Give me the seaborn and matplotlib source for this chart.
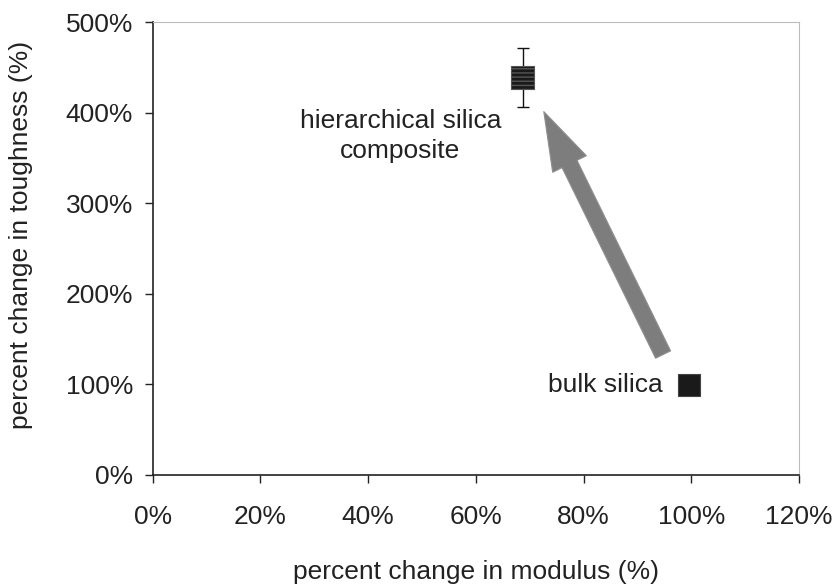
import matplotlib
matplotlib.use("Agg")
import matplotlib.pyplot as plt
import seaborn as sns
import pandas as pd

# data
materials = ["hierarchical silica composite", "bulk silica"]
modulus_change = [0.687, 0.995]
toughness_change = [4.39, 0.99]
toughness_err = [0.33, 0.0]

df = pd.DataFrame({"material": materials,
                   "modulus": modulus_change,
                   "toughness": toughness_change,
                   "err": toughness_err})

sns.set_style("white")
plt.rcParams["font.family"] = ["Liberation Sans", "DejaVu Sans"]
plt.rcParams["hatch.color"] = "#8a8a8a"
plt.rcParams["hatch.linewidth"] = 1.0

fig, ax = plt.subplots(figsize=(8.34, 5.86), dpi=100)
fig.subplots_adjust(left=0.183, right=0.958, top=0.962, bottom=0.19)

# error bar on the composite point
ax.errorbar(df["modulus"], df["toughness"], yerr=df["err"], fmt="none",
            ecolor="#111111", elinewidth=1.0, capsize=4.5, capthick=1.0, zorder=2)

sns.scatterplot(data=df.iloc[:1], x="modulus", y="toughness", marker="s", s=260,
                color="#1a1a1a", edgecolor="#555555", linewidth=0.8, hatch="----",
                legend=False, ax=ax, zorder=3)
sns.scatterplot(data=df.iloc[1:], x="modulus", y="toughness", marker="s", s=260,
                color="#1a1a1a", edgecolor="#444444", linewidth=0.8,
                legend=False, ax=ax, zorder=3)

# arrow from bulk silica to the composite
ax.annotate("", xy=(0.724, 4.04), xytext=(0.95, 1.30),
            arrowprops=dict(arrowstyle="simple,head_length=2.1,head_width=1.35,tail_width=0.6",
                            facecolor="#7d7d7d", edgecolor="#8f8f8f", linewidth=0.8,
                            mutation_scale=20), zorder=1)

ax.text(0.46, 3.74, "hierarchical silica\ncomposite", ha="center", va="center",
        fontsize=19, color="#222222", linespacing=1.3)
ax.text(0.948, 0.99, "bulk silica", ha="right", va="center",
        fontsize=19, color="#222222")

ax.set_xlim(0, 1.2)
ax.set_ylim(0, 5)
ax.set_xticks([0, 0.2, 0.4, 0.6, 0.8, 1.0, 1.2])
ax.set_yticks([0, 1, 2, 3, 4, 5])
pct = plt.FuncFormatter(lambda v, p: f"{v*100:.0f}%")
ax.xaxis.set_major_formatter(pct)
ax.yaxis.set_major_formatter(pct)

ax.tick_params(axis="both", labelsize=19, colors="#222222", direction="out",
               length=6, width=1, bottom=True, left=True)
ax.tick_params(axis="x", pad=16)
ax.tick_params(axis="y", pad=8)

for side in ["left", "bottom"]:
    ax.spines[side].set_color("#222222")
    ax.spines[side].set_linewidth(1.2)
for side in ["top", "right"]:
    ax.spines[side].set_color("#bbbbbb")
    ax.spines[side].set_linewidth(0.8)

ax.set_xlabel("percent change in modulus (%)", fontsize=19, color="#222222", labelpad=22)
ax.set_ylabel("percent change in toughness (%)", fontsize=19, color="#222222")
ax.yaxis.set_label_coords(-0.185, 0.53)

fig.savefig("out.png", dpi=100, facecolor="white")
